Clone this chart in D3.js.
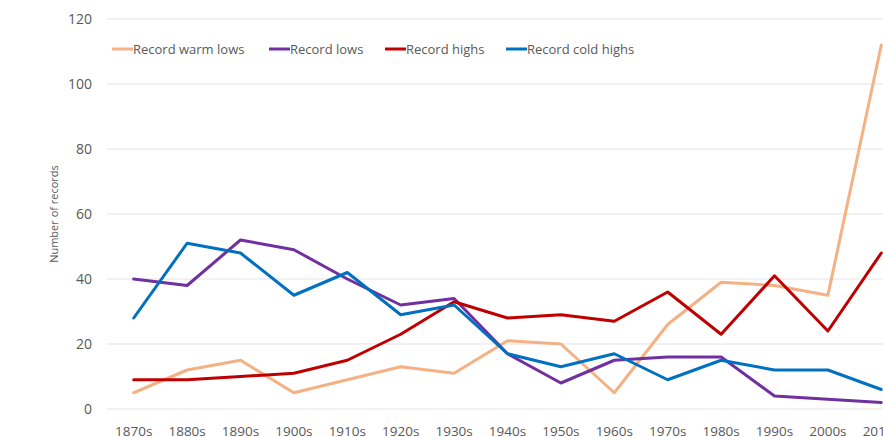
<!DOCTYPE html>
<html>
<head>
<meta charset="utf-8">
<script src="https://cdn.jsdelivr.net/npm/d3@7"></script>
<style>
body { margin: 0; background: #ffffff; overflow: hidden; }
svg { display: block; font-family: "Open Sans", sans-serif; }
</style>
</head>
<body>
<script>
var decades = ["1870s", "1880s", "1890s", "1900s", "1910s", "1920s", "1930s", "1940s",
	"1950s", "1960s", "1970s", "1980s", "1990s", "2000s", "2010s"];
var warmLows = [5, 12, 15, 5, 9, 13, 11, 21, 20, 5, 26, 39, 38, 35, 112];
var lows = [40, 38, 52, 49, 40, 32, 34, 17, 8, 15, 16, 16, 4, 3, 2];
var highs = [9, 9, 10, 11, 15, 23, 33, 28, 29, 27, 36, 23, 41, 24, 48];
var coldHighs = [28, 51, 48, 35, 42, 29, 32, 17, 13, 17, 9, 15, 12, 12, 6];
var yTicks = [0, 20, 40, 60, 80, 100, 120];

var series = [
	{ name: "Record warm lows", values: warmLows, color: "#f4b183" },
	{ name: "Record lows", values: lows, color: "#7030a0" },
	{ name: "Record highs", values: highs, color: "#c00000" },
	{ name: "Record cold highs", values: coldHighs, color: "#0070c0" }
];

var width = 883, height = 437;
var plotLeft = 107, plotTop = 19, plotBottom = 409;
var step = 53.4;

var svg = d3.select("body").append("svg").attr("width", width).attr("height", height);

var x = d3.scaleBand().domain(decades).range([plotLeft, plotLeft + step * decades.length]);
var y = d3.scaleLinear().domain([0, 120]).range([plotBottom, plotTop]);

// grid
svg.append("g").selectAll("line")
	.data(yTicks)
	.enter()
	.append("line")
	.attr("x1", plotLeft).attr("x2", width)
	.attr("y1", function(d) { return y(d); })
	.attr("y2", function(d) { return y(d); })
	.attr("stroke", "#e3e3e3")
	.attr("stroke-width", 1);

// y tick labels
svg.append("g").selectAll("text")
	.data(yTicks)
	.enter()
	.append("text")
	.attr("x", 92)
	.attr("y", function(d) { return y(d); })
	.attr("dy", "0.35em")
	.attr("text-anchor", "end")
	.attr("fill", "#595959")
	.style("font-size", "14px")
	.text(function(d) { return d; });

// x tick labels
svg.append("g").selectAll("text")
	.data(decades)
	.enter()
	.append("text")
	.attr("x", function(d) { return x(d) + x.bandwidth() / 2; })
	.attr("y", 436)
	.attr("text-anchor", "middle")
	.attr("fill", "#595959")
	.style("font-size", "13.5px")
	.text(function(d) { return d; });

// axis title
svg.append("text")
	.attr("transform", "translate(58,214) rotate(-90)")
	.attr("text-anchor", "middle")
	.attr("fill", "#595959")
	.style("font-size", "11px")
	.text("Number of records");

var line = d3.line()
	.x(function(d, i) { return x(decades[i]) + x.bandwidth() / 2; })
	.y(function(d) { return y(d); });

svg.append("g").selectAll("path")
	.data(series)
	.enter()
	.append("path")
	.attr("d", function(d) { return line(d.values); })
	.attr("fill", "none")
	.attr("stroke", function(d) { return d.color; })
	.attr("stroke-width", 3)
	.attr("stroke-linejoin", "round")
	.attr("stroke-linecap", "round");

// legend
var legendX = [112, 269, 385, 506];
var lg = svg.append("g").selectAll("g")
	.data(series)
	.enter()
	.append("g")
	.attr("transform", function(d, i) { return "translate(" + legendX[i] + ",49)"; });
lg.append("line")
	.attr("x1", 0).attr("x2", 21)
	.attr("stroke", function(d) { return d.color; })
	.attr("stroke-width", 3);
lg.append("text")
	.attr("x", 21)
	.attr("dy", "0.35em")
	.attr("fill", "#595959")
	.style("font-size", "13px")
	.text(function(d) { return d.name; });
</script>
</body>
</html>
